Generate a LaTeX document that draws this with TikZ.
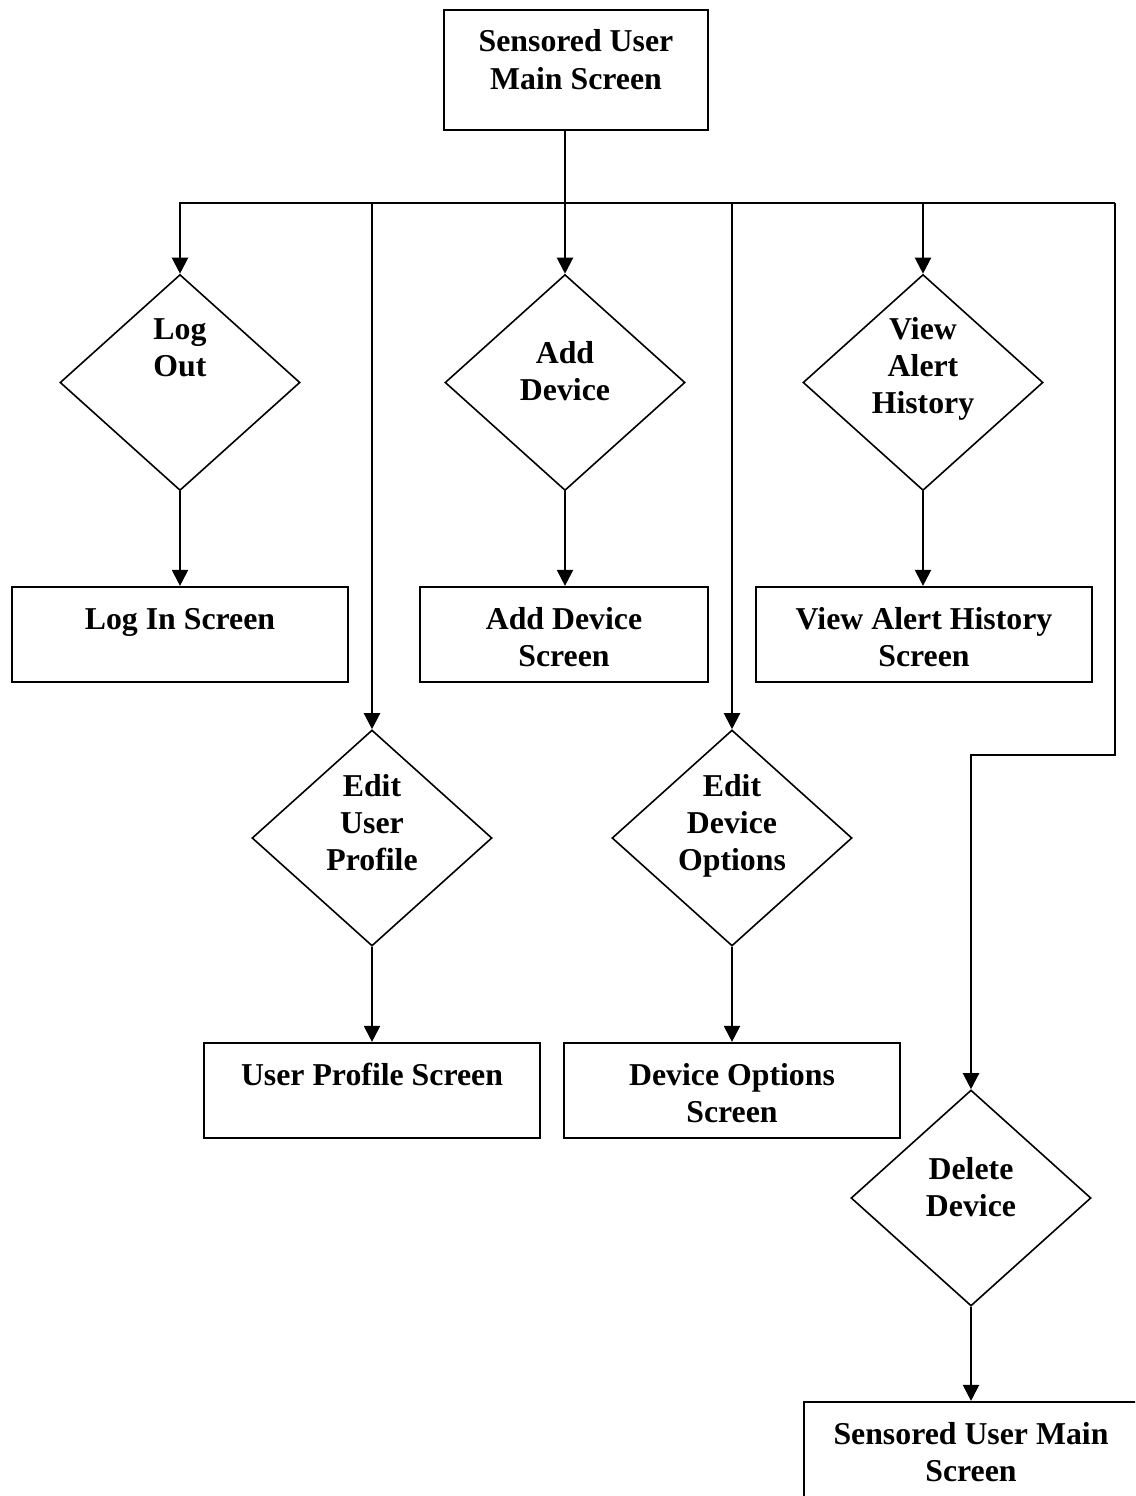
\documentclass[tikz,border=0pt]{standalone}
\usepackage{fontspec}
\setmainfont{Liberation Serif}
\usetikzlibrary{shapes.geometric,arrows.meta}

% one block of centred lines whose reference point is the first baseline
\newcommand{\lines}[1]{\begin{tabular}[t]{@{}c@{}}#1\end{tabular}}

\begin{document}
\begin{tikzpicture}[
  x=1pt, y=-1pt,
  screenbox/.style={draw, line width=2.2pt, inner sep=0pt},
  choice/.style={draw, shape=diamond, line width=1.6pt, inner sep=0pt,
                 minimum width=240pt, minimum height=216pt},
  caption/.style={anchor=base, inner sep=0pt,
                  font=\fontsize{31.8}{37.4}\selectfont\bfseries},
  link/.style={line width=2.2pt},
  arr/.style={link, -{Triangle[length=16pt,width=16pt]}}
]
\useasboundingbox (0,0) rectangle (1135,1496);
\clip (0,0) rectangle (1135,1496);

% screens
\node[screenbox, minimum width=264pt, minimum height=120pt] (top) at (576,70) {};
\node[screenbox, minimum width=336pt, minimum height=95pt] (login) at (180,634.5) {};
\node[screenbox, minimum width=288pt, minimum height=95pt] (adddev) at (564,634.5) {};
\node[screenbox, minimum width=336pt, minimum height=95pt] (alerts) at (924,634.5) {};
\node[screenbox, minimum width=336pt, minimum height=95pt] (profile) at (372,1090.5) {};
\node[screenbox, minimum width=336pt, minimum height=95pt] (options) at (732,1090.5) {};
\node[screenbox, minimum width=334pt, minimum height=140pt] (back) at (971,1472) {};

% decisions
\node[choice] (dlogout) at (180,382.5) {};
\node[choice] (dadd) at (565,382.5) {};
\node[choice] (dview) at (923,382.5) {};
\node[choice] (dprofile) at (372,838) {};
\node[choice] (doptions) at (732,838) {};
\node[choice] (ddelete) at (971,1198) {};

% labels
\node[caption] (ttop) at (576,52) {\lines{Sensored User\\Main Screen}};
\node[caption] (tlogout) at (180,339) {\lines{Log\\Out}};
\node[caption] (tadd) at (565,363) {\lines{Add\\Device}};
\node[caption] (tview) at (923,339) {\lines{View\\Alert\\History}};
\node[caption] (tlogin) at (180,629) {\lines{Log In Screen}};
\node[caption] (tadddev) at (564,629) {\lines{Add Device\\Screen}};
\node[caption] (talerts) at (924,629) {\lines{View Alert History\\Screen}};
\node[caption] (tdprofile) at (372,796) {\lines{Edit\\User\\Profile}};
\node[caption] (tdoptions) at (732,796) {\lines{Edit\\Device\\Options}};
\node[caption] (tprofile) at (372,1085) {\lines{User Profile Screen}};
\node[caption] (toptions) at (732,1085) {\lines{Device Options\\Screen}};
\node[caption] (tdelete) at (971,1179) {\lines{Delete\\Device}};
\node[caption] (tback) at (971,1444) {\lines{Sensored User Main\\Screen}};

% distribution bus
\coordinate (hub) at (565,203);
\coordinate (turn) at (1115,755);

\draw[link] (hub |- top.south) -- (hub);
\draw[arr] (hub) -| (dlogout.north);
\draw[arr] (hub) -- (dadd.north);
\draw[arr] (hub) -| (dview.north);
\draw[link] (hub) -- (hub -| turn);
\draw[arr] (dprofile.north |- hub) -- (dprofile.north);
\draw[arr] (doptions.north |- hub) -- (doptions.north);
\draw[arr, line join=miter] (hub -| turn) -- (turn) -| (ddelete.north);

% decision outcomes
\draw[arr] (dlogout.south) -- (dlogout.south |- login.north);
\draw[arr] (dadd.south) -- (dadd.south |- adddev.north);
\draw[arr] (dview.south) -- (dview.south |- alerts.north);
\draw[arr] (dprofile.south) -- (dprofile.south |- profile.north);
\draw[arr] (doptions.south) -- (doptions.south |- options.north);
\draw[arr] (ddelete.south) -- (ddelete.south |- back.north);
\end{tikzpicture}
\end{document}
